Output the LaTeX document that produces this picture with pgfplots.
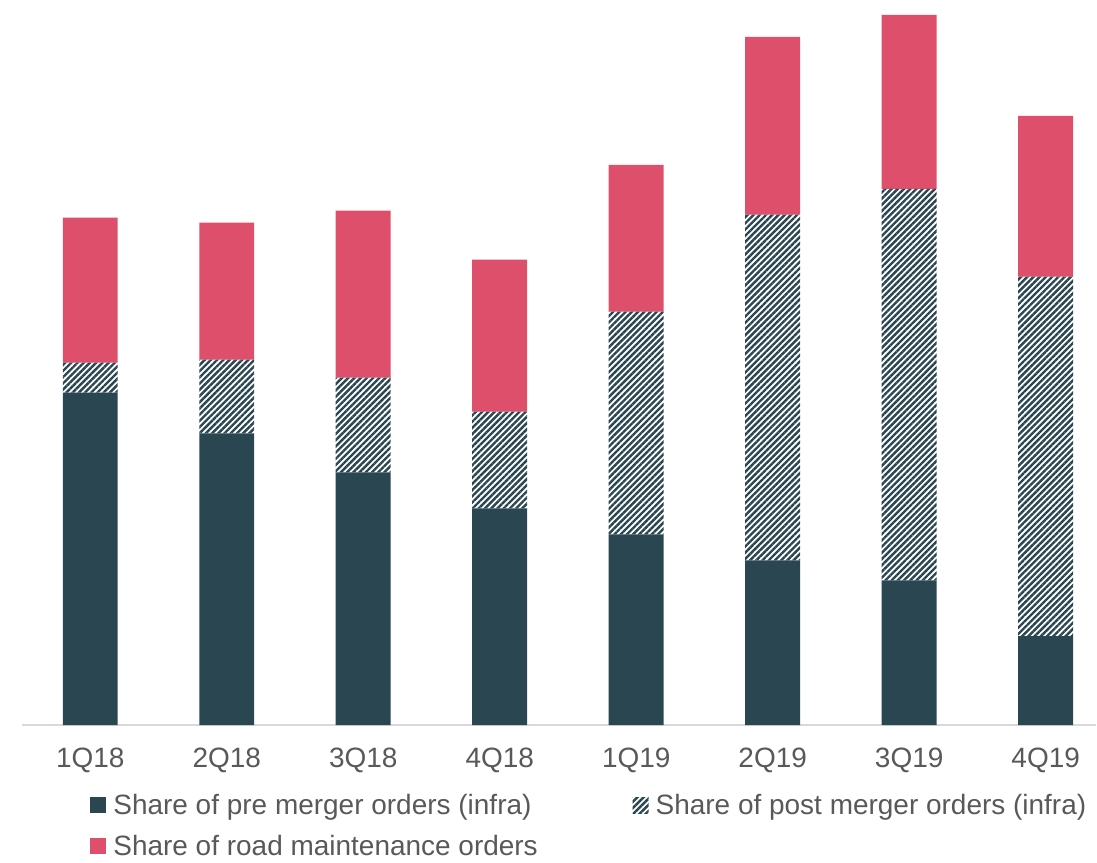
\documentclass[border=0pt]{standalone}
\usepackage{pgfplots}
\pgfplotsset{compat=1.18}
\usepackage{fontspec}
\setmainfont{Liberation Sans}
\usetikzlibrary{patterns.meta}
\definecolor{darkc}{HTML}{2A4651}
\definecolor{pinkc}{HTML}{DD4F6A}
\definecolor{txtc}{HTML}{595959}
\definecolor{axc}{HTML}{D9D9D9}
\begin{document}
\begin{tikzpicture}
\begin{axis}[
  scale only axis,
  width=537.75pt, height=363pt,
  ybar stacked, bar width=27.5pt,
  xmin=-0.5, xmax=7.37, ymin=0, ymax=726,
  hide y axis,
  axis x line*=bottom,
  x axis line style={draw=axc, line width=0.8pt, -},
  xtick={0,...,7},
  xticklabels={1Q18,2Q18,3Q18,4Q18,1Q19,2Q19,3Q19,4Q19},
  major tick length=0pt,
  xticklabel style={font=\fontsize{14}{17}\selectfont, text=txtc, yshift=-8pt},
  legend columns=2,
  legend cell align=left,
  legend style={draw=none, fill=none, inner sep=0pt, outer sep=0pt,
    at={(0.0637,-0.09)}, anchor=north west,
    font=\fontsize{14}{17}\selectfont, text=txtc,
    row sep=5pt,
    /tikz/every odd column/.append style={column sep=1.5pt},
    /tikz/every even column/.append style={column sep=45.5pt}},
  legend image code/.code={\path[#1, draw=none] (0pt,-3.5pt) rectangle (8pt,4.5pt);},
]
\addplot[fill=darkc, draw=none] coordinates {(0,333) (1,292) (2,253) (3,217) (4,191) (5,165) (6,145) (7,89)};
\addplot[draw=none, pattern={Lines[angle=45, distance=2.2pt, line width=1.2pt]}, pattern color=darkc] coordinates {(0,30) (1,74) (2,95) (3,97) (4,223) (5,346) (6,392) (7,360)};
\addplot[fill=pinkc, draw=none] coordinates {(0,145) (1,137) (2,167) (3,152) (4,147) (5,178) (6,174) (7,161)};
\legend{Share of pre merger orders (infra), Share of post merger orders (infra), Share of road maintenance orders}
\end{axis}
\path ([xshift=-11pt]current axis.north west) ([xshift=-11pt]current axis.south west);
\end{tikzpicture}
\end{document}
